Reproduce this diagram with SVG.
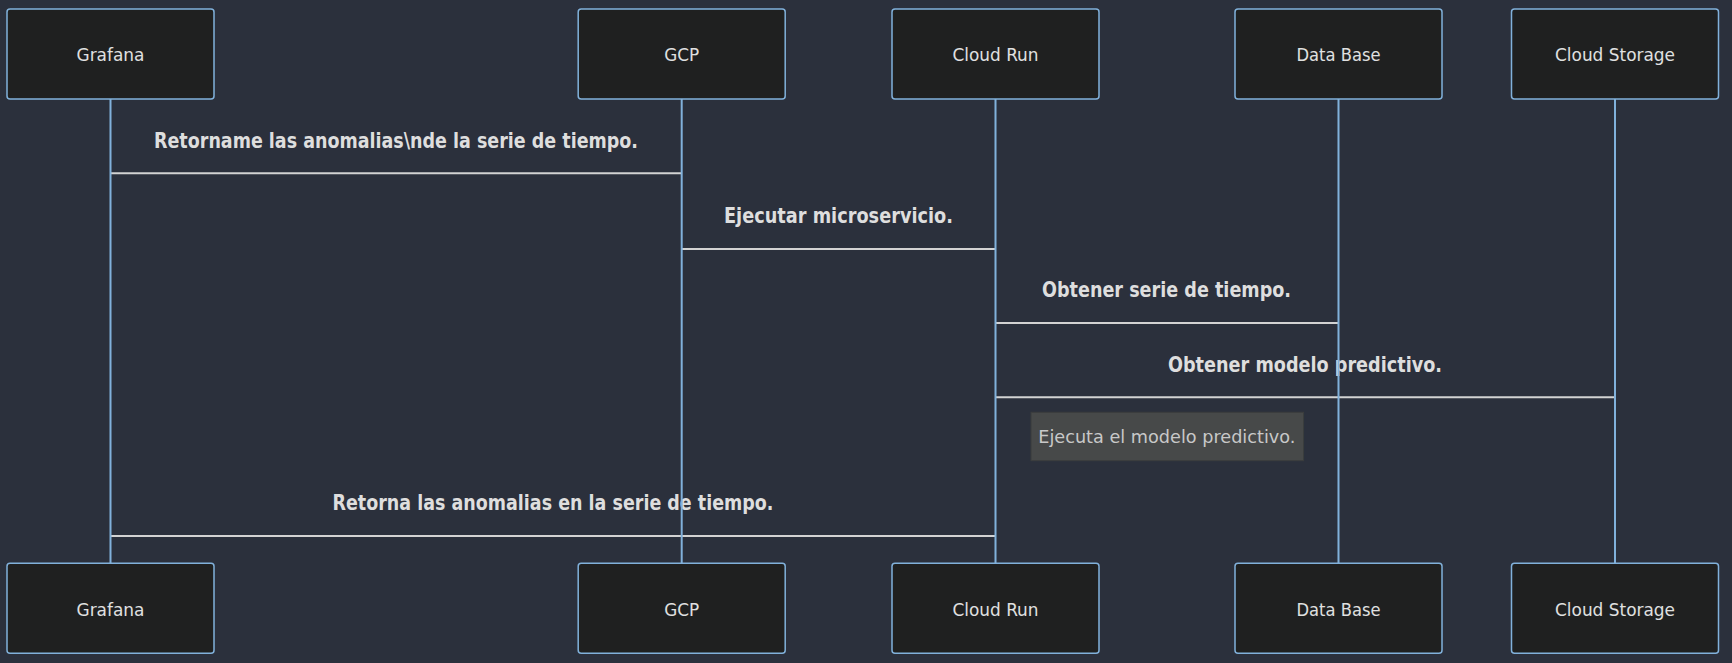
<svg xmlns="http://www.w3.org/2000/svg" width="1732" height="663" viewBox="0 0 1732 663">
<style>
.bg{fill:#2b303c}
.actor{fill:#1f2020;stroke:#81b1db;stroke-width:1.5}
.life{stroke:#81b1db;stroke-width:2}
.atext{font-family:"DejaVu Sans Condensed","DejaVu Sans",sans-serif;font-size:17.5px;fill:#e0e0e0;text-anchor:middle}
.msg{stroke:#d3d3d3;stroke-width:2;fill:none}
.mtext{font-family:"DejaVu Sans Condensed","DejaVu Sans",sans-serif;font-size:21px;font-weight:bold;fill:#dedede;text-anchor:middle}
.note{fill:#474949;stroke:#3b3d3d;stroke-width:1}
.ntext{font-family:"DejaVu Sans Condensed","DejaVu Sans",sans-serif;font-size:17.5px;fill:#c8c8c8;text-anchor:middle}
</style>
<rect class="bg" x="0" y="0" width="1732" height="663"/>
<g id="connectors">
<line class="msg" x1="110.5" y1="173.3" x2="681.7" y2="173.3"/>
<text class="mtext" x="396" y="147.5" textLength="484" lengthAdjust="spacingAndGlyphs">Retorname las anomalias\nde la serie de tiempo.</text>
<line class="msg" x1="681.7" y1="249" x2="995.5" y2="249"/>
<text class="mtext" x="838.5" y="222.5" textLength="229" lengthAdjust="spacingAndGlyphs">Ejecutar microservicio.</text>
<line class="msg" x1="995.5" y1="323" x2="1338.5" y2="323"/>
<text class="mtext" x="1166.5" y="297.3" textLength="249" lengthAdjust="spacingAndGlyphs">Obtener serie de tiempo.</text>
<line class="msg" x1="995.5" y1="397.3" x2="1615" y2="397.3"/>
<text class="mtext" x="1305" y="371.8" textLength="274" lengthAdjust="spacingAndGlyphs">Obtener modelo predictivo.</text>
<line class="msg" x1="110.5" y1="536" x2="995.5" y2="536"/>
<text class="mtext" x="553" y="510" textLength="441" lengthAdjust="spacingAndGlyphs">Retorna las anomalias en la serie de tiempo.</text>
</g>
<g id="note">
<rect class="note" x="1031" y="412.3" width="272.6" height="48.4"/>
<text class="ntext" x="1166.8" y="442.7" textLength="257" lengthAdjust="spacingAndGlyphs">Ejecuta el modelo predictivo.</text>
</g>
<g id="grafana">
<line class="life" x1="110.5" y1="99" x2="110.5" y2="563"/>
<rect class="actor" x="7" y="9" width="207" height="90" rx="3"/>
<text class="atext" x="110.5" y="61" textLength="68" lengthAdjust="spacingAndGlyphs">Grafana</text>
<rect class="actor" x="7" y="563.3" width="207" height="90" rx="3"/>
<text class="atext" x="110.5" y="615.5" textLength="68" lengthAdjust="spacingAndGlyphs">Grafana</text>
</g>
<g id="gcp">
<line class="life" x1="681.7" y1="99" x2="681.7" y2="563"/>
<rect class="actor" x="578.2" y="9" width="207" height="90" rx="3"/>
<text class="atext" x="681.7" y="61" textLength="35" lengthAdjust="spacingAndGlyphs">GCP</text>
<rect class="actor" x="578.2" y="563.3" width="207" height="90" rx="3"/>
<text class="atext" x="681.7" y="615.5" textLength="35" lengthAdjust="spacingAndGlyphs">GCP</text>
</g>
<g id="cloudrun">
<line class="life" x1="995.5" y1="99" x2="995.5" y2="563"/>
<rect class="actor" x="892" y="9" width="207" height="90" rx="3"/>
<text class="atext" x="995.5" y="61" textLength="86" lengthAdjust="spacingAndGlyphs">Cloud Run</text>
<rect class="actor" x="892" y="563.3" width="207" height="90" rx="3"/>
<text class="atext" x="995.5" y="615.5" textLength="86" lengthAdjust="spacingAndGlyphs">Cloud Run</text>
</g>
<g id="database">
<line class="life" x1="1338.5" y1="99" x2="1338.5" y2="563"/>
<rect class="actor" x="1235" y="9" width="207" height="90" rx="3"/>
<text class="atext" x="1338.5" y="61" textLength="84" lengthAdjust="spacingAndGlyphs">Data Base</text>
<rect class="actor" x="1235" y="563.3" width="207" height="90" rx="3"/>
<text class="atext" x="1338.5" y="615.5" textLength="84" lengthAdjust="spacingAndGlyphs">Data Base</text>
</g>
<g id="cloudstorage">
<line class="life" x1="1615" y1="99" x2="1615" y2="563"/>
<rect class="actor" x="1511.5" y="9" width="207" height="90" rx="3"/>
<text class="atext" x="1615" y="61" textLength="120" lengthAdjust="spacingAndGlyphs">Cloud Storage</text>
<rect class="actor" x="1511.5" y="563.3" width="207" height="90" rx="3"/>
<text class="atext" x="1615" y="615.5" textLength="120" lengthAdjust="spacingAndGlyphs">Cloud Storage</text>
</g>
</svg>
